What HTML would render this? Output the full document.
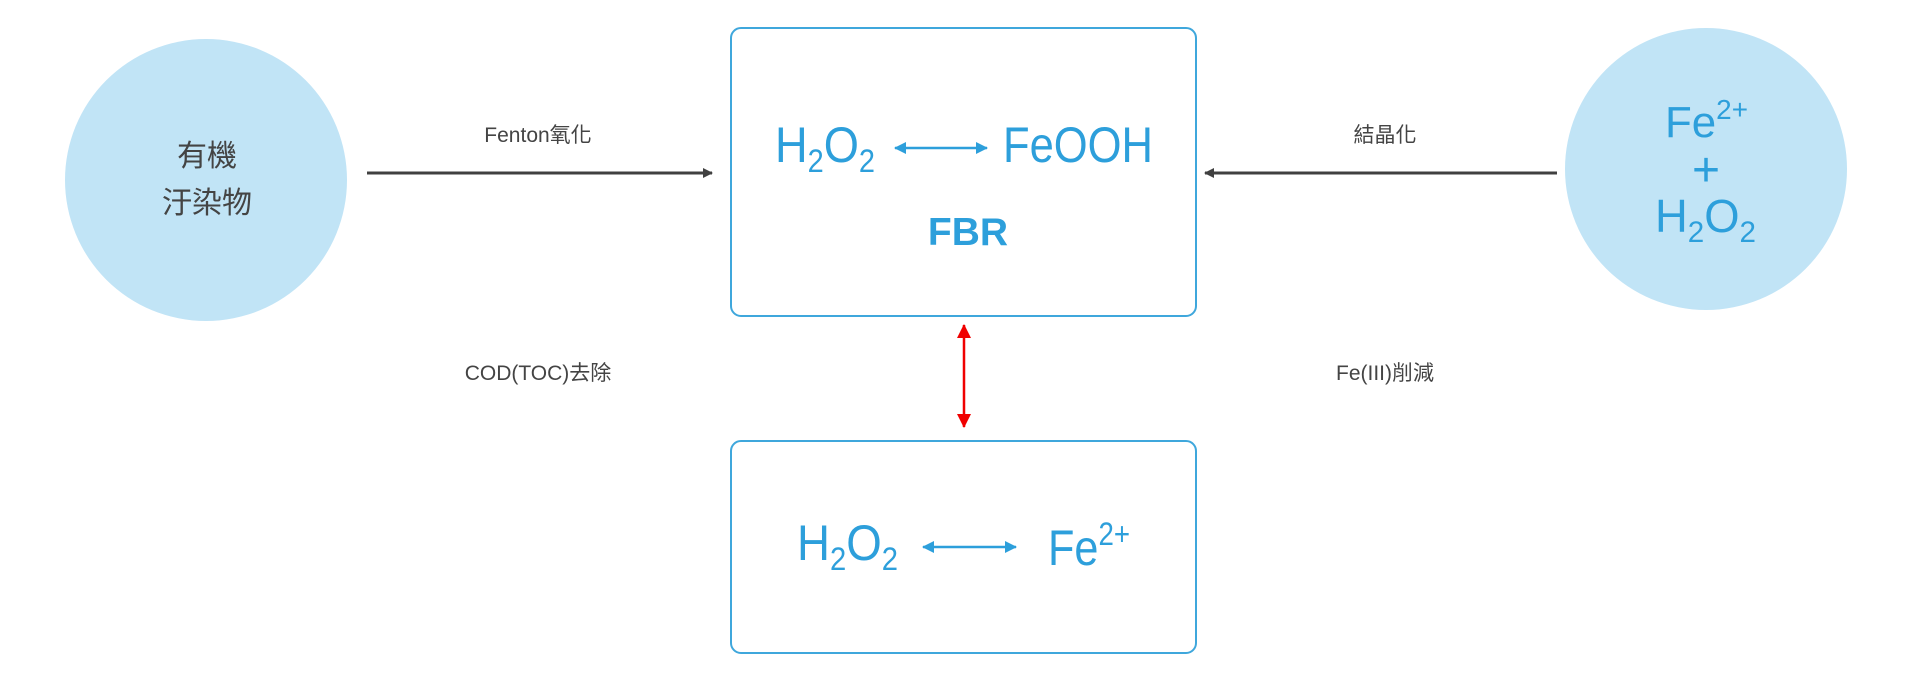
<!DOCTYPE html>
<html><head><meta charset="utf-8"><style>html,body{margin:0;padding:0;background:#fff}svg{display:block}</style></head>
<body>
<svg width="1917" height="677" viewBox="0 0 1917 677" xmlns="http://www.w3.org/2000/svg">
<defs>
<marker id="ag" markerWidth="10" markerHeight="10" refX="9" refY="5" orient="auto" markerUnits="userSpaceOnUse"><path d="M0,0 L10,5 L0,10 Z" fill="#404040"/></marker>
<marker id="ab" markerWidth="12" markerHeight="12" refX="11" refY="6" orient="auto-start-reverse" markerUnits="userSpaceOnUse"><path d="M0,0 L12,6 L0,12 Z" fill="#2d9fdb"/></marker>
<marker id="ar" markerWidth="14" markerHeight="14" refX="13" refY="7" orient="auto-start-reverse" markerUnits="userSpaceOnUse"><path d="M0,0 L14,7 L0,14 Z" fill="#f00000"/></marker>
</defs>
<circle cx="206" cy="180" r="141" fill="#c1e4f6"/>
<circle cx="1706" cy="169" r="141" fill="#c1e4f6"/>
<rect x="731" y="28" width="465" height="288" rx="10" fill="none" stroke="#3fa7dc" stroke-width="2"/>
<rect x="731" y="441" width="465" height="212" rx="10" fill="none" stroke="#3fa7dc" stroke-width="2"/>
<line x1="367" y1="173" x2="712" y2="173" stroke="#404040" stroke-width="3" marker-end="url(#ag)"/>
<line x1="1557" y1="173" x2="1205" y2="173" stroke="#404040" stroke-width="3" marker-end="url(#ag)"/>
<line x1="964" y1="325" x2="964" y2="427" stroke="#f00000" stroke-width="2.5" marker-start="url(#ar)" marker-end="url(#ar)"/>
<line x1="895" y1="148" x2="987" y2="148" stroke="#2d9fdb" stroke-width="2.5" marker-start="url(#ab)" marker-end="url(#ab)"/>
<line x1="923" y1="547" x2="1016" y2="547" stroke="#2d9fdb" stroke-width="2.5" marker-start="url(#ab)" marker-end="url(#ab)"/>
<g font-family="'Liberation Sans','Noto Sans CJK TC',sans-serif" fill="#444">
<text x="207" y="166" font-size="30" text-anchor="middle">有機</text>
<text x="207" y="213" font-size="30" text-anchor="middle">汙染物</text>
<text x="538" y="142" font-size="21" text-anchor="middle">Fenton氧化</text>
<text x="538" y="380" font-size="21" text-anchor="middle">COD(TOC)去除</text>
<text x="1385" y="142" font-size="21" text-anchor="middle">結晶化</text>
<text x="1385" y="380" font-size="21" text-anchor="middle">Fe(III)削減</text>
</g>
<g font-family="'Liberation Sans',sans-serif" fill="#2d9fdb">
<text x="775" y="162" font-size="50" textLength="100" lengthAdjust="spacingAndGlyphs">H<tspan font-size="32" dy="10">2</tspan><tspan dy="-10">O</tspan><tspan font-size="32" dy="10">2</tspan></text>
<text x="1003" y="162" font-size="50" textLength="150" lengthAdjust="spacingAndGlyphs">FeOOH</text>
<text x="968" y="245" font-size="39" font-weight="bold" text-anchor="middle">FBR</text>
<text x="797" y="560" font-size="50" textLength="101" lengthAdjust="spacingAndGlyphs">H<tspan font-size="32" dy="10">2</tspan><tspan dy="-10">O</tspan><tspan font-size="32" dy="10">2</tspan></text>
<text x="1048" y="565" font-size="50" textLength="82" lengthAdjust="spacingAndGlyphs">Fe<tspan font-size="32" dy="-20">2+</tspan></text>
<text x="1665" y="137" font-size="44" textLength="83" lengthAdjust="spacingAndGlyphs">Fe<tspan font-size="28" dy="-18">2+</tspan></text>
<text x="1706" y="186" font-size="48" text-anchor="middle">+</text>
<text x="1655" y="232" font-size="46" textLength="101" lengthAdjust="spacingAndGlyphs">H<tspan font-size="30" dy="10">2</tspan><tspan dy="-10">O</tspan><tspan font-size="30" dy="10">2</tspan></text>
</g>
</svg>
</body></html>
